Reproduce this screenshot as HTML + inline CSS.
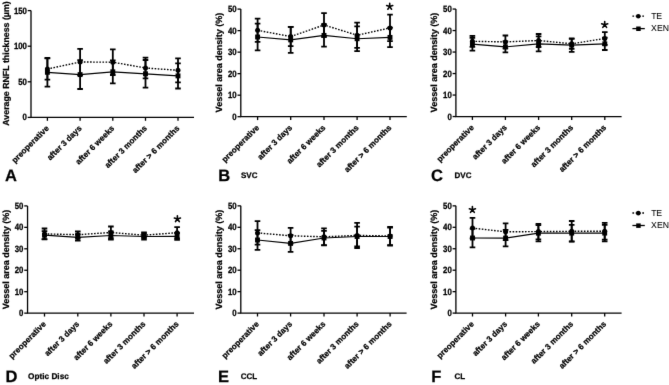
<!DOCTYPE html>
<html><head><meta charset="utf-8"><style>
html,body{margin:0;padding:0;background:#fff;}
svg{display:block;}
#w{width:669px;height:385px;overflow:hidden;will-change:transform;}
text{text-rendering:geometricPrecision;}
text{font-family:"Liberation Sans", sans-serif;fill:#000;stroke:#000;stroke-width:0.25px;}
</style></head><body><div id="w">
<svg width="669" height="385" viewBox="0 0 669 385">
<defs><filter id="bl" x="0" y="0" width="669" height="385" filterUnits="userSpaceOnUse"><feConvolveMatrix order="3" kernelMatrix="0.00524 0.06192 0.00524 0.06192 0.73137 0.06192 0.00524 0.06192 0.00524" edgeMode="none" preserveAlpha="false"/></filter></defs>
<rect width="669" height="385" fill="#fff"/>
<g filter="url(#bl)">
<path d="M31 10.6V117.4H194" fill="none" stroke="#000" stroke-width="1.3"/>
<path d="M27.7 117.4H31" stroke="#000" stroke-width="1.3"/>
<text transform="translate(26.9 120.49) scale(1 1.17)" text-anchor="end" font-size="7.8" font-weight="bold">0</text>
<path d="M27.7 81.8H31" stroke="#000" stroke-width="1.3"/>
<text transform="translate(26.9 84.89) scale(1 1.17)" text-anchor="end" font-size="7.8" font-weight="bold">50</text>
<path d="M27.7 46.2H31" stroke="#000" stroke-width="1.3"/>
<text transform="translate(26.9 49.29) scale(1 1.17)" text-anchor="end" font-size="7.8" font-weight="bold">100</text>
<path d="M27.7 10.6H31" stroke="#000" stroke-width="1.3"/>
<text transform="translate(26.9 13.69) scale(1 1.17)" text-anchor="end" font-size="7.8" font-weight="bold">150</text>
<path d="M47.4 117.4V120.8" stroke="#000" stroke-width="1.3"/>
<text transform="translate(49.4 128.9) rotate(-45)" text-anchor="end" font-size="8.15" font-weight="bold">preoperative</text>
<path d="M80.1 117.4V120.8" stroke="#000" stroke-width="1.3"/>
<text transform="translate(82.1 128.9) rotate(-45)" text-anchor="end" font-size="8.15" font-weight="bold">after 3 days</text>
<path d="M112.8 117.4V120.8" stroke="#000" stroke-width="1.3"/>
<text transform="translate(114.8 128.9) rotate(-45)" text-anchor="end" font-size="8.15" font-weight="bold">after 6 weeks</text>
<path d="M145.5 117.4V120.8" stroke="#000" stroke-width="1.3"/>
<text transform="translate(147.5 128.9) rotate(-45)" text-anchor="end" font-size="8.15" font-weight="bold">after 3 months</text>
<path d="M178 117.4V120.8" stroke="#000" stroke-width="1.3"/>
<text transform="translate(180 128.9) rotate(-45)" text-anchor="end" font-size="8.15" font-weight="bold">after &gt; 6 months</text>
<text transform="translate(8.8 63.5) rotate(-90)" text-anchor="middle" font-size="8.8" font-weight="bold">Average RNFL thickness (µm)</text>
<path d="M47.4 58V86.6M44.6 58H50.2M44.6 86.6H50.2" stroke="#000" stroke-width="1.8" fill="none"/>
<path d="M80.1 60.2V89M77.3 60.2H82.9M77.3 89H82.9" stroke="#000" stroke-width="1.8" fill="none"/>
<path d="M112.8 60.3V83.3M110 60.3H115.6M110 83.3H115.6" stroke="#000" stroke-width="1.8" fill="none"/>
<path d="M145.5 60V87.6M142.7 60H148.3M142.7 87.6H148.3" stroke="#000" stroke-width="1.8" fill="none"/>
<path d="M178 63.3V88.5M175.2 63.3H180.8M175.2 88.5H180.8" stroke="#000" stroke-width="1.8" fill="none"/>
<path d="M47.4 58.4V79.6M44.6 58.4H50.2M44.6 79.6H50.2" stroke="#000" stroke-width="1.8" fill="none"/>
<path d="M80.1 48.8V75.2M77.3 48.8H82.9M77.3 75.2H82.9" stroke="#000" stroke-width="1.8" fill="none"/>
<path d="M112.8 49.4V75M110 49.4H115.6M110 75H115.6" stroke="#000" stroke-width="1.8" fill="none"/>
<path d="M145.5 57.6V78.4M142.7 57.6H148.3M142.7 78.4H148.3" stroke="#000" stroke-width="1.8" fill="none"/>
<path d="M178 58.3V82.3M175.2 58.3H180.8M175.2 82.3H180.8" stroke="#000" stroke-width="1.8" fill="none"/>
<polyline points="47.4,72.3 80.1,74.6 112.8,71.8 145.5,73.8 178,75.9" fill="none" stroke="#000" stroke-width="1.2"/>
<polyline points="47.4,69 80.1,62 112.8,62.2 145.5,68 178,70.3" fill="none" stroke="#000" stroke-width="1.4" stroke-dasharray="1.6 1.5"/>
<rect x="44.95" y="69.85" width="4.9" height="4.9"/>
<rect x="77.65" y="72.15" width="4.9" height="4.9"/>
<rect x="110.35" y="69.35" width="4.9" height="4.9"/>
<rect x="143.05" y="71.35" width="4.9" height="4.9"/>
<rect x="175.55" y="73.45" width="4.9" height="4.9"/>
<circle cx="47.4" cy="69" r="2.5"/>
<circle cx="80.1" cy="62" r="2.5"/>
<circle cx="112.8" cy="62.2" r="2.5"/>
<circle cx="145.5" cy="68" r="2.5"/>
<circle cx="178" cy="70.3" r="2.5"/>
<text x="5" y="181" font-size="16.5" font-weight="bold">A</text>
<path d="M240.8 9.1V116.7H406.8" fill="none" stroke="#000" stroke-width="1.3"/>
<path d="M237.5 116.7H240.8" stroke="#000" stroke-width="1.3"/>
<text transform="translate(236.7 119.79) scale(1 1.17)" text-anchor="end" font-size="7.8" font-weight="bold">0</text>
<path d="M237.5 95.18H240.8" stroke="#000" stroke-width="1.3"/>
<text transform="translate(236.7 98.27) scale(1 1.17)" text-anchor="end" font-size="7.8" font-weight="bold">10</text>
<path d="M237.5 73.66H240.8" stroke="#000" stroke-width="1.3"/>
<text transform="translate(236.7 76.75) scale(1 1.17)" text-anchor="end" font-size="7.8" font-weight="bold">20</text>
<path d="M237.5 52.14H240.8" stroke="#000" stroke-width="1.3"/>
<text transform="translate(236.7 55.23) scale(1 1.17)" text-anchor="end" font-size="7.8" font-weight="bold">30</text>
<path d="M237.5 30.62H240.8" stroke="#000" stroke-width="1.3"/>
<text transform="translate(236.7 33.71) scale(1 1.17)" text-anchor="end" font-size="7.8" font-weight="bold">40</text>
<path d="M237.5 9.1H240.8" stroke="#000" stroke-width="1.3"/>
<text transform="translate(236.7 12.19) scale(1 1.17)" text-anchor="end" font-size="7.8" font-weight="bold">50</text>
<path d="M257.6 116.7V120.1" stroke="#000" stroke-width="1.3"/>
<text transform="translate(259.6 128.2) rotate(-45)" text-anchor="end" font-size="8.15" font-weight="bold">preoperative</text>
<path d="M290.7 116.7V120.1" stroke="#000" stroke-width="1.3"/>
<text transform="translate(292.7 128.2) rotate(-45)" text-anchor="end" font-size="8.15" font-weight="bold">after 3 days</text>
<path d="M324 116.7V120.1" stroke="#000" stroke-width="1.3"/>
<text transform="translate(326 128.2) rotate(-45)" text-anchor="end" font-size="8.15" font-weight="bold">after 6 weeks</text>
<path d="M357.1 116.7V120.1" stroke="#000" stroke-width="1.3"/>
<text transform="translate(359.1 128.2) rotate(-45)" text-anchor="end" font-size="8.15" font-weight="bold">after 3 months</text>
<path d="M390 116.7V120.1" stroke="#000" stroke-width="1.3"/>
<text transform="translate(392 128.2) rotate(-45)" text-anchor="end" font-size="8.15" font-weight="bold">after &gt; 6 months</text>
<text transform="translate(222.3 62.6) rotate(-90)" text-anchor="middle" font-size="9.0" font-weight="bold">Vessel area density (%)</text>
<path d="M257.6 23.6V50.4M254.8 23.6H260.4M254.8 50.4H260.4" stroke="#000" stroke-width="1.8" fill="none"/>
<path d="M290.7 26.9V52.9M287.9 26.9H293.5M287.9 52.9H293.5" stroke="#000" stroke-width="1.8" fill="none"/>
<path d="M324 24.1V46.7M321.2 24.1H326.8M321.2 46.7H326.8" stroke="#000" stroke-width="1.8" fill="none"/>
<path d="M357.1 26.4V51.1M354.3 26.4H359.9M354.3 51.1H359.9" stroke="#000" stroke-width="1.8" fill="none"/>
<path d="M390 27.7V47.1M387.2 27.7H392.8M387.2 47.1H392.8" stroke="#000" stroke-width="1.8" fill="none"/>
<path d="M257.6 18.65V41.95M254.8 18.65H260.4M254.8 41.95H260.4" stroke="#000" stroke-width="1.8" fill="none"/>
<path d="M290.7 26.9V46.2M287.9 26.9H293.5M287.9 46.2H293.5" stroke="#000" stroke-width="1.8" fill="none"/>
<path d="M324 13.1V36.9M321.2 13.1H326.8M321.2 36.9H326.8" stroke="#000" stroke-width="1.8" fill="none"/>
<path d="M357.1 22.6V47.9M354.3 22.6H359.9M354.3 47.9H359.9" stroke="#000" stroke-width="1.8" fill="none"/>
<path d="M390 14.6V41.2M387.2 14.6H392.8M387.2 41.2H392.8" stroke="#000" stroke-width="1.8" fill="none"/>
<polyline points="257.6,37 290.7,39.9 324,35.4 357.1,38.75 390,37.4" fill="none" stroke="#000" stroke-width="1.2"/>
<polyline points="257.6,30.3 290.7,36.55 324,25 357.1,35.25 390,27.9" fill="none" stroke="#000" stroke-width="1.4" stroke-dasharray="1.6 1.5"/>
<rect x="255.15" y="34.55" width="4.9" height="4.9"/>
<rect x="288.25" y="37.45" width="4.9" height="4.9"/>
<rect x="321.55" y="32.95" width="4.9" height="4.9"/>
<rect x="354.65" y="36.3" width="4.9" height="4.9"/>
<rect x="387.55" y="34.95" width="4.9" height="4.9"/>
<circle cx="257.6" cy="30.3" r="2.5"/>
<circle cx="290.7" cy="36.55" r="2.5"/>
<circle cx="324" cy="25" r="2.5"/>
<circle cx="357.1" cy="35.25" r="2.5"/>
<circle cx="390" cy="27.9" r="2.5"/>
<path d="M389.7 6.6L389.7 3.4M389.7 6.6L392.74 5.61M389.7 6.6L391.58 9.19M389.7 6.6L387.82 9.19M389.7 6.6L386.66 5.61" stroke="#000" stroke-width="1.6" stroke-linecap="round" fill="none"/>
<text x="218.2" y="180.9" font-size="16.5" font-weight="bold">B</text>
<text x="241" y="177.7" font-size="8.0" font-weight="bold">SVC</text>
<path d="M455.9 9.05V116.55H621.6" fill="none" stroke="#000" stroke-width="1.3"/>
<path d="M452.6 116.55H455.9" stroke="#000" stroke-width="1.3"/>
<text transform="translate(451.8 119.64) scale(1 1.17)" text-anchor="end" font-size="7.8" font-weight="bold">0</text>
<path d="M452.6 95.05H455.9" stroke="#000" stroke-width="1.3"/>
<text transform="translate(451.8 98.14) scale(1 1.17)" text-anchor="end" font-size="7.8" font-weight="bold">10</text>
<path d="M452.6 73.55H455.9" stroke="#000" stroke-width="1.3"/>
<text transform="translate(451.8 76.64) scale(1 1.17)" text-anchor="end" font-size="7.8" font-weight="bold">20</text>
<path d="M452.6 52.05H455.9" stroke="#000" stroke-width="1.3"/>
<text transform="translate(451.8 55.14) scale(1 1.17)" text-anchor="end" font-size="7.8" font-weight="bold">30</text>
<path d="M452.6 30.55H455.9" stroke="#000" stroke-width="1.3"/>
<text transform="translate(451.8 33.64) scale(1 1.17)" text-anchor="end" font-size="7.8" font-weight="bold">40</text>
<path d="M452.6 9.05H455.9" stroke="#000" stroke-width="1.3"/>
<text transform="translate(451.8 12.14) scale(1 1.17)" text-anchor="end" font-size="7.8" font-weight="bold">50</text>
<path d="M472.4 116.55V119.95" stroke="#000" stroke-width="1.3"/>
<text transform="translate(474.4 128.05) rotate(-45)" text-anchor="end" font-size="8.15" font-weight="bold">preoperative</text>
<path d="M505.4 116.55V119.95" stroke="#000" stroke-width="1.3"/>
<text transform="translate(507.4 128.05) rotate(-45)" text-anchor="end" font-size="8.15" font-weight="bold">after 3 days</text>
<path d="M538.6 116.55V119.95" stroke="#000" stroke-width="1.3"/>
<text transform="translate(540.6 128.05) rotate(-45)" text-anchor="end" font-size="8.15" font-weight="bold">after 6 weeks</text>
<path d="M571.7 116.55V119.95" stroke="#000" stroke-width="1.3"/>
<text transform="translate(573.7 128.05) rotate(-45)" text-anchor="end" font-size="8.15" font-weight="bold">after 3 months</text>
<path d="M604.8 116.55V119.95" stroke="#000" stroke-width="1.3"/>
<text transform="translate(606.8 128.05) rotate(-45)" text-anchor="end" font-size="8.15" font-weight="bold">after &gt; 6 months</text>
<text transform="translate(437.3 62.6) rotate(-90)" text-anchor="middle" font-size="9.0" font-weight="bold">Vessel area density (%)</text>
<path d="M472.4 37.75V50.65M469.6 37.75H475.2M469.6 50.65H475.2" stroke="#000" stroke-width="1.8" fill="none"/>
<path d="M505.4 41.4V52.4M502.6 41.4H508.2M502.6 52.4H508.2" stroke="#000" stroke-width="1.8" fill="none"/>
<path d="M538.6 36.3V51.3M535.8 36.3H541.4M535.8 51.3H541.4" stroke="#000" stroke-width="1.8" fill="none"/>
<path d="M571.7 38.4V51.8M568.9 38.4H574.5M568.9 51.8H574.5" stroke="#000" stroke-width="1.8" fill="none"/>
<path d="M604.8 37.6V50M602 37.6H607.6M602 50H607.6" stroke="#000" stroke-width="1.8" fill="none"/>
<path d="M472.4 35.8V46.8M469.6 35.8H475.2M469.6 46.8H475.2" stroke="#000" stroke-width="1.8" fill="none"/>
<path d="M505.4 35.5V48.3M502.6 35.5H508.2M502.6 48.3H508.2" stroke="#000" stroke-width="1.8" fill="none"/>
<path d="M538.6 34V47M535.8 34H541.4M535.8 47H541.4" stroke="#000" stroke-width="1.8" fill="none"/>
<path d="M571.7 38.8V48.8M568.9 38.8H574.5M568.9 48.8H574.5" stroke="#000" stroke-width="1.8" fill="none"/>
<path d="M604.8 32.1V44.9M602 32.1H607.6M602 44.9H607.6" stroke="#000" stroke-width="1.8" fill="none"/>
<polyline points="472.4,44.2 505.4,46.9 538.6,43.8 571.7,45.1 604.8,43.8" fill="none" stroke="#000" stroke-width="1.2"/>
<polyline points="472.4,41.3 505.4,41.9 538.6,40.5 571.7,43.8 604.8,38.5" fill="none" stroke="#000" stroke-width="1.4" stroke-dasharray="1.6 1.5"/>
<rect x="469.95" y="41.75" width="4.9" height="4.9"/>
<rect x="502.95" y="44.45" width="4.9" height="4.9"/>
<rect x="536.15" y="41.35" width="4.9" height="4.9"/>
<rect x="569.25" y="42.65" width="4.9" height="4.9"/>
<rect x="602.35" y="41.35" width="4.9" height="4.9"/>
<circle cx="472.4" cy="41.3" r="2.5"/>
<circle cx="505.4" cy="41.9" r="2.5"/>
<circle cx="538.6" cy="40.5" r="2.5"/>
<circle cx="571.7" cy="43.8" r="2.5"/>
<circle cx="604.8" cy="38.5" r="2.5"/>
<path d="M604.7 24.8L604.7 21.6M604.7 24.8L607.74 23.81M604.7 24.8L606.58 27.39M604.7 24.8L602.82 27.39M604.7 24.8L601.66 23.81" stroke="#000" stroke-width="1.6" stroke-linecap="round" fill="none"/>
<text x="431" y="181.4" font-size="16.5" font-weight="bold">C</text>
<text x="454.6" y="177.8" font-size="8.0" font-weight="bold">DVC</text>
<path d="M27.55 205.9V313.15H194" fill="none" stroke="#000" stroke-width="1.3"/>
<path d="M24.25 313.15H27.55" stroke="#000" stroke-width="1.3"/>
<text transform="translate(23.45 316.24) scale(1 1.17)" text-anchor="end" font-size="7.8" font-weight="bold">0</text>
<path d="M24.25 291.7H27.55" stroke="#000" stroke-width="1.3"/>
<text transform="translate(23.45 294.79) scale(1 1.17)" text-anchor="end" font-size="7.8" font-weight="bold">10</text>
<path d="M24.25 270.25H27.55" stroke="#000" stroke-width="1.3"/>
<text transform="translate(23.45 273.34) scale(1 1.17)" text-anchor="end" font-size="7.8" font-weight="bold">20</text>
<path d="M24.25 248.8H27.55" stroke="#000" stroke-width="1.3"/>
<text transform="translate(23.45 251.89) scale(1 1.17)" text-anchor="end" font-size="7.8" font-weight="bold">30</text>
<path d="M24.25 227.35H27.55" stroke="#000" stroke-width="1.3"/>
<text transform="translate(23.45 230.44) scale(1 1.17)" text-anchor="end" font-size="7.8" font-weight="bold">40</text>
<path d="M24.25 205.9H27.55" stroke="#000" stroke-width="1.3"/>
<text transform="translate(23.45 208.99) scale(1 1.17)" text-anchor="end" font-size="7.8" font-weight="bold">50</text>
<path d="M44.5 313.15V316.55" stroke="#000" stroke-width="1.3"/>
<text transform="translate(46.5 324.65) rotate(-45)" text-anchor="end" font-size="8.15" font-weight="bold">preoperative</text>
<path d="M77.8 313.15V316.55" stroke="#000" stroke-width="1.3"/>
<text transform="translate(79.8 324.65) rotate(-45)" text-anchor="end" font-size="8.15" font-weight="bold">after 3 days</text>
<path d="M110.9 313.15V316.55" stroke="#000" stroke-width="1.3"/>
<text transform="translate(112.9 324.65) rotate(-45)" text-anchor="end" font-size="8.15" font-weight="bold">after 6 weeks</text>
<path d="M144 313.15V316.55" stroke="#000" stroke-width="1.3"/>
<text transform="translate(146 324.65) rotate(-45)" text-anchor="end" font-size="8.15" font-weight="bold">after 3 months</text>
<path d="M177.1 313.15V316.55" stroke="#000" stroke-width="1.3"/>
<text transform="translate(179.1 324.65) rotate(-45)" text-anchor="end" font-size="8.15" font-weight="bold">after &gt; 6 months</text>
<text transform="translate(8.8 259.5) rotate(-90)" text-anchor="middle" font-size="9.0" font-weight="bold">Vessel area density (%)</text>
<path d="M44.5 231.2V239.2M41.7 231.2H47.3M41.7 239.2H47.3" stroke="#000" stroke-width="1.8" fill="none"/>
<path d="M77.8 234.2V240.6M75 234.2H80.6M75 240.6H80.6" stroke="#000" stroke-width="1.8" fill="none"/>
<path d="M110.9 231.3V239.7M108.1 231.3H113.7M108.1 239.7H113.7" stroke="#000" stroke-width="1.8" fill="none"/>
<path d="M144 233.3V239.7M141.2 233.3H146.8M141.2 239.7H146.8" stroke="#000" stroke-width="1.8" fill="none"/>
<path d="M177.1 233V239.8M174.3 233H179.9M174.3 239.8H179.9" stroke="#000" stroke-width="1.8" fill="none"/>
<path d="M44.5 228.5V239.3M41.7 228.5H47.3M41.7 239.3H47.3" stroke="#000" stroke-width="1.8" fill="none"/>
<path d="M77.8 231.5V237.9M75 231.5H80.6M75 237.9H80.6" stroke="#000" stroke-width="1.8" fill="none"/>
<path d="M110.9 226.5V238.5M108.1 226.5H113.7M108.1 238.5H113.7" stroke="#000" stroke-width="1.8" fill="none"/>
<path d="M144 232.5V237.9M141.2 232.5H146.8M141.2 237.9H146.8" stroke="#000" stroke-width="1.8" fill="none"/>
<path d="M177.1 227.1V238.3M174.3 227.1H179.9M174.3 238.3H179.9" stroke="#000" stroke-width="1.8" fill="none"/>
<polyline points="44.5,235.2 77.8,237.4 110.9,235.5 144,236.5 177.1,236.4" fill="none" stroke="#000" stroke-width="1.2"/>
<polyline points="44.5,233.9 77.8,234.7 110.9,232.5 144,235.2 177.1,232.7" fill="none" stroke="#000" stroke-width="1.4" stroke-dasharray="1.6 1.5"/>
<rect x="42.05" y="232.75" width="4.9" height="4.9"/>
<rect x="75.35" y="234.95" width="4.9" height="4.9"/>
<rect x="108.45" y="233.05" width="4.9" height="4.9"/>
<rect x="141.55" y="234.05" width="4.9" height="4.9"/>
<rect x="174.65" y="233.95" width="4.9" height="4.9"/>
<circle cx="44.5" cy="233.9" r="2.5"/>
<circle cx="77.8" cy="234.7" r="2.5"/>
<circle cx="110.9" cy="232.5" r="2.5"/>
<circle cx="144" cy="235.2" r="2.5"/>
<circle cx="177.1" cy="232.7" r="2.5"/>
<path d="M177.4 219L177.4 215.8M177.4 219L180.44 218.01M177.4 219L179.28 221.59M177.4 219L175.52 221.59M177.4 219L174.36 218.01" stroke="#000" stroke-width="1.6" stroke-linecap="round" fill="none"/>
<text x="5.5" y="382.2" font-size="16.5" font-weight="bold">D</text>
<text x="28" y="379" font-size="8.25" font-weight="bold">Optic Disc</text>
<path d="M240.8 205.85V313.1H406.6" fill="none" stroke="#000" stroke-width="1.3"/>
<path d="M237.5 313.1H240.8" stroke="#000" stroke-width="1.3"/>
<text transform="translate(236.7 316.19) scale(1 1.17)" text-anchor="end" font-size="7.8" font-weight="bold">0</text>
<path d="M237.5 291.65H240.8" stroke="#000" stroke-width="1.3"/>
<text transform="translate(236.7 294.74) scale(1 1.17)" text-anchor="end" font-size="7.8" font-weight="bold">10</text>
<path d="M237.5 270.2H240.8" stroke="#000" stroke-width="1.3"/>
<text transform="translate(236.7 273.29) scale(1 1.17)" text-anchor="end" font-size="7.8" font-weight="bold">20</text>
<path d="M237.5 248.75H240.8" stroke="#000" stroke-width="1.3"/>
<text transform="translate(236.7 251.84) scale(1 1.17)" text-anchor="end" font-size="7.8" font-weight="bold">30</text>
<path d="M237.5 227.3H240.8" stroke="#000" stroke-width="1.3"/>
<text transform="translate(236.7 230.39) scale(1 1.17)" text-anchor="end" font-size="7.8" font-weight="bold">40</text>
<path d="M237.5 205.85H240.8" stroke="#000" stroke-width="1.3"/>
<text transform="translate(236.7 208.94) scale(1 1.17)" text-anchor="end" font-size="7.8" font-weight="bold">50</text>
<path d="M257.5 313.1V316.5" stroke="#000" stroke-width="1.3"/>
<text transform="translate(259.5 324.6) rotate(-45)" text-anchor="end" font-size="8.15" font-weight="bold">preoperative</text>
<path d="M290.6 313.1V316.5" stroke="#000" stroke-width="1.3"/>
<text transform="translate(292.6 324.6) rotate(-45)" text-anchor="end" font-size="8.15" font-weight="bold">after 3 days</text>
<path d="M324 313.1V316.5" stroke="#000" stroke-width="1.3"/>
<text transform="translate(326 324.6) rotate(-45)" text-anchor="end" font-size="8.15" font-weight="bold">after 6 weeks</text>
<path d="M357.1 313.1V316.5" stroke="#000" stroke-width="1.3"/>
<text transform="translate(359.1 324.6) rotate(-45)" text-anchor="end" font-size="8.15" font-weight="bold">after 3 months</text>
<path d="M390.1 313.1V316.5" stroke="#000" stroke-width="1.3"/>
<text transform="translate(392.1 324.6) rotate(-45)" text-anchor="end" font-size="8.15" font-weight="bold">after &gt; 6 months</text>
<text transform="translate(222.3 259.6) rotate(-90)" text-anchor="middle" font-size="9.0" font-weight="bold">Vessel area density (%)</text>
<path d="M257.5 230.1V249.9M254.7 230.1H260.3M254.7 249.9H260.3" stroke="#000" stroke-width="1.8" fill="none"/>
<path d="M290.6 235V251.8M287.8 235H293.4M287.8 251.8H293.4" stroke="#000" stroke-width="1.8" fill="none"/>
<path d="M324 230.9V245.1M321.2 230.9H326.8M321.2 245.1H326.8" stroke="#000" stroke-width="1.8" fill="none"/>
<path d="M357.1 226.7V246.3M354.3 226.7H359.9M354.3 246.3H359.9" stroke="#000" stroke-width="1.8" fill="none"/>
<path d="M390.1 227.5V245.5M387.3 227.5H392.9M387.3 245.5H392.9" stroke="#000" stroke-width="1.8" fill="none"/>
<path d="M257.5 221.1V244.7M254.7 221.1H260.3M254.7 244.7H260.3" stroke="#000" stroke-width="1.8" fill="none"/>
<path d="M290.6 227.9V243.7M287.8 227.9H293.4M287.8 243.7H293.4" stroke="#000" stroke-width="1.8" fill="none"/>
<path d="M324 228.3V245.3M321.2 228.3H326.8M321.2 245.3H326.8" stroke="#000" stroke-width="1.8" fill="none"/>
<path d="M357.1 222.8V248M354.3 222.8H359.9M354.3 248H359.9" stroke="#000" stroke-width="1.8" fill="none"/>
<path d="M390.1 226.9V245.1M387.3 226.9H392.9M387.3 245.1H392.9" stroke="#000" stroke-width="1.8" fill="none"/>
<polyline points="257.5,240 290.6,243.4 324,238 357.1,236.5 390.1,236.5" fill="none" stroke="#000" stroke-width="1.2"/>
<polyline points="257.5,232.9 290.6,235.8 324,236.8 357.1,235.4 390.1,236" fill="none" stroke="#000" stroke-width="1.4" stroke-dasharray="1.6 1.5"/>
<rect x="255.05" y="237.55" width="4.9" height="4.9"/>
<rect x="288.15" y="240.95" width="4.9" height="4.9"/>
<rect x="321.55" y="235.55" width="4.9" height="4.9"/>
<rect x="354.65" y="234.05" width="4.9" height="4.9"/>
<rect x="387.65" y="234.05" width="4.9" height="4.9"/>
<circle cx="257.5" cy="232.9" r="2.5"/>
<circle cx="290.6" cy="235.8" r="2.5"/>
<circle cx="324" cy="236.8" r="2.5"/>
<circle cx="357.1" cy="235.4" r="2.5"/>
<circle cx="390.1" cy="236" r="2.5"/>
<text x="218" y="382.2" font-size="16.5" font-weight="bold">E</text>
<text x="240.8" y="379" font-size="8.0" font-weight="bold">CCL</text>
<path d="M455.9 205.85V313.1H621.6" fill="none" stroke="#000" stroke-width="1.3"/>
<path d="M452.6 313.1H455.9" stroke="#000" stroke-width="1.3"/>
<text transform="translate(451.8 316.19) scale(1 1.17)" text-anchor="end" font-size="7.8" font-weight="bold">0</text>
<path d="M452.6 291.65H455.9" stroke="#000" stroke-width="1.3"/>
<text transform="translate(451.8 294.74) scale(1 1.17)" text-anchor="end" font-size="7.8" font-weight="bold">10</text>
<path d="M452.6 270.2H455.9" stroke="#000" stroke-width="1.3"/>
<text transform="translate(451.8 273.29) scale(1 1.17)" text-anchor="end" font-size="7.8" font-weight="bold">20</text>
<path d="M452.6 248.75H455.9" stroke="#000" stroke-width="1.3"/>
<text transform="translate(451.8 251.84) scale(1 1.17)" text-anchor="end" font-size="7.8" font-weight="bold">30</text>
<path d="M452.6 227.3H455.9" stroke="#000" stroke-width="1.3"/>
<text transform="translate(451.8 230.39) scale(1 1.17)" text-anchor="end" font-size="7.8" font-weight="bold">40</text>
<path d="M452.6 205.85H455.9" stroke="#000" stroke-width="1.3"/>
<text transform="translate(451.8 208.94) scale(1 1.17)" text-anchor="end" font-size="7.8" font-weight="bold">50</text>
<path d="M472.5 313.1V316.5" stroke="#000" stroke-width="1.3"/>
<text transform="translate(474.5 324.6) rotate(-45)" text-anchor="end" font-size="8.15" font-weight="bold">preoperative</text>
<path d="M505.6 313.1V316.5" stroke="#000" stroke-width="1.3"/>
<text transform="translate(507.6 324.6) rotate(-45)" text-anchor="end" font-size="8.15" font-weight="bold">after 3 days</text>
<path d="M538.4 313.1V316.5" stroke="#000" stroke-width="1.3"/>
<text transform="translate(540.4 324.6) rotate(-45)" text-anchor="end" font-size="8.15" font-weight="bold">after 6 weeks</text>
<path d="M571.7 313.1V316.5" stroke="#000" stroke-width="1.3"/>
<text transform="translate(573.7 324.6) rotate(-45)" text-anchor="end" font-size="8.15" font-weight="bold">after 3 months</text>
<path d="M604.7 313.1V316.5" stroke="#000" stroke-width="1.3"/>
<text transform="translate(606.7 324.6) rotate(-45)" text-anchor="end" font-size="8.15" font-weight="bold">after &gt; 6 months</text>
<text transform="translate(437.3 259.6) rotate(-90)" text-anchor="middle" font-size="9.0" font-weight="bold">Vessel area density (%)</text>
<path d="M472.5 228.6V247.4M469.7 228.6H475.3M469.7 247.4H475.3" stroke="#000" stroke-width="1.8" fill="none"/>
<path d="M505.6 229.8V246.4M502.8 229.8H508.4M502.8 246.4H508.4" stroke="#000" stroke-width="1.8" fill="none"/>
<path d="M538.4 225.1V241.3M535.6 225.1H541.2M535.6 241.3H541.2" stroke="#000" stroke-width="1.8" fill="none"/>
<path d="M571.7 224.9V241.3M568.9 224.9H574.5M568.9 241.3H574.5" stroke="#000" stroke-width="1.8" fill="none"/>
<path d="M604.7 224.8V241.4M601.9 224.8H607.5M601.9 241.4H607.5" stroke="#000" stroke-width="1.8" fill="none"/>
<path d="M472.5 217.9V238.3M469.7 217.9H475.3M469.7 238.3H475.3" stroke="#000" stroke-width="1.8" fill="none"/>
<path d="M505.6 223.4V240.2M502.8 223.4H508.4M502.8 240.2H508.4" stroke="#000" stroke-width="1.8" fill="none"/>
<path d="M538.4 223.8V239.4M535.6 223.8H541.2M535.6 239.4H541.2" stroke="#000" stroke-width="1.8" fill="none"/>
<path d="M571.7 221V241.6M568.9 221H574.5M568.9 241.6H574.5" stroke="#000" stroke-width="1.8" fill="none"/>
<path d="M604.7 222.9V239.7M601.9 222.9H607.5M601.9 239.7H607.5" stroke="#000" stroke-width="1.8" fill="none"/>
<polyline points="472.5,238 505.6,238.1 538.4,233.2 571.7,233.1 604.7,233.1" fill="none" stroke="#000" stroke-width="1.2"/>
<polyline points="472.5,228.1 505.6,231.8 538.4,231.6 571.7,231.3 604.7,231.3" fill="none" stroke="#000" stroke-width="1.4" stroke-dasharray="1.6 1.5"/>
<rect x="470.05" y="235.55" width="4.9" height="4.9"/>
<rect x="503.15" y="235.65" width="4.9" height="4.9"/>
<rect x="535.95" y="230.75" width="4.9" height="4.9"/>
<rect x="569.25" y="230.65" width="4.9" height="4.9"/>
<rect x="602.25" y="230.65" width="4.9" height="4.9"/>
<circle cx="472.5" cy="228.1" r="2.5"/>
<circle cx="505.6" cy="231.8" r="2.5"/>
<circle cx="538.4" cy="231.6" r="2.5"/>
<circle cx="571.7" cy="231.3" r="2.5"/>
<circle cx="604.7" cy="231.3" r="2.5"/>
<path d="M472.4 209.8L472.4 206.6M472.4 209.8L475.44 208.81M472.4 209.8L474.28 212.39M472.4 209.8L470.52 212.39M472.4 209.8L469.36 208.81" stroke="#000" stroke-width="1.6" stroke-linecap="round" fill="none"/>
<text x="431.2" y="382.2" font-size="16.5" font-weight="bold">F</text>
<text x="454.4" y="379" font-size="8.0" font-weight="bold">CL</text>
<path d="M632.4 16.1H644" stroke="#000" stroke-width="1.4" stroke-dasharray="1.7 1.6"/>
<circle cx="638.3" cy="16.25" r="2.3"/>
<path d="M632.4 28.6H644.8" stroke="#000" stroke-width="1.3"/>
<rect x="636.2" y="26.5" width="4.5" height="4.5"/>
<text x="651.3" y="19.2" font-size="8.7" letter-spacing="-0.25" style="stroke-width:0.05px">TE</text>
<text x="651.1" y="31.2" font-size="8.7" style="stroke-width:0.05px">XEN</text>
<path d="M632.4 213H644" stroke="#000" stroke-width="1.4" stroke-dasharray="1.7 1.6"/>
<circle cx="638.3" cy="213.15" r="2.3"/>
<path d="M632.4 225.5H644.8" stroke="#000" stroke-width="1.3"/>
<rect x="636.2" y="223.4" width="4.5" height="4.5"/>
<text x="651.3" y="216.1" font-size="8.7" letter-spacing="-0.25" style="stroke-width:0.05px">TE</text>
<text x="651.1" y="228.1" font-size="8.7" style="stroke-width:0.05px">XEN</text>
</g>
</svg>
</div></body></html>
